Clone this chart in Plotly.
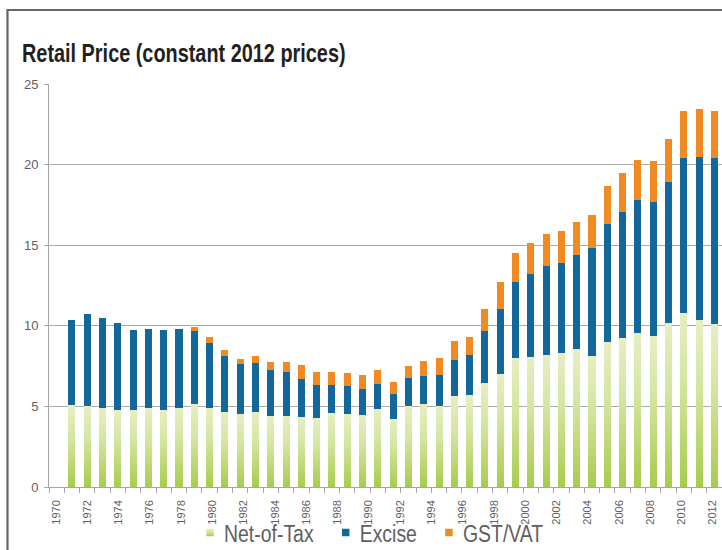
import plotly.graph_objects as go

# ---------------- data ----------------
years = list(range(1970, 2013))

net_of_tax = [5.07, 5.00, 4.90, 4.76, 4.76, 4.90, 4.76, 4.90, 5.13, 4.90,
              4.65, 4.51, 4.65, 4.39, 4.39, 4.32, 4.26, 4.57, 4.51, 4.45,
              4.82, 4.20, 5.00, 5.13, 5.00, 5.63, 5.69, 6.43, 6.99, 7.98,
              8.05, 8.17, 8.30, 8.54, 8.10, 8.97, 9.22, 9.53, 9.35, 10.15,
              10.77, 10.34, 10.09]

excise = [5.27, 5.71, 5.58, 5.41, 4.96, 4.88, 4.96, 4.88, 4.53, 4.03,
          3.46, 3.10, 3.02, 2.85, 2.73, 2.36, 2.05, 1.74, 1.73, 1.61,
          1.55, 1.55, 1.74, 1.74, 1.93, 2.23, 2.48, 3.23, 4.08, 4.72,
          5.15, 5.51, 5.60, 5.88, 6.70, 7.37, 7.87, 8.27, 8.30, 8.75,
          9.63, 10.16, 10.31]

gst_vat = [0, 0, 0, 0, 0, 0, 0, 0, 0.27, 0.37,
           0.37, 0.33, 0.46, 0.50, 0.62, 0.87, 0.81, 0.81, 0.81, 0.87,
           0.87, 0.75, 0.75, 0.93, 1.05, 1.18, 1.16, 1.41, 1.63, 1.80,
           1.92, 2.00, 2.00, 2.05, 2.10, 2.36, 2.41, 2.50, 2.55, 2.66,
           2.90, 2.92, 2.90]

tick_years = list(range(1970, 2013, 2))
tick_labels = [str(y) for y in tick_years]
y_ticks = [0, 5, 10, 15, 20, 25]

series_names = ["Net-of-Tax", "Excise", "GST/VAT"]
colors = {"Net-of-Tax": "#c3dc80", "Excise": "#13679b", "GST/VAT": "#f08a22"}

FONT = "Liberation Sans, Arial, sans-serif"
GREY_TXT = "#5f5f5f"

fig = go.Figure()

for name, vals in zip(series_names, [net_of_tax, excise, gst_vat]):
    fig.add_trace(go.Bar(
        x=years, y=vals, name=name, width=0.46,
        marker=dict(color=colors[name], line=dict(width=0)),
        showlegend=False,
    ))

# legend entries with small square swatches
for name in series_names:
    fig.add_trace(go.Scatter(
        x=[None], y=[None], mode="markers", name=name,
        marker=dict(symbol="square", size=7.5, color=colors[name]),
        showlegend=True,
    ))

# invisible trace on the label axis
fig.add_trace(go.Scatter(x=[tick_years[0]], y=[0], xaxis="x2", mode="markers",
                         marker=dict(opacity=0), showlegend=False, hoverinfo="skip"))

fig.update_layout(
    width=722, height=550,
    margin=dict(l=49, r=0, t=84, b=63, autoexpand=False),
    paper_bgcolor="white", plot_bgcolor="white",
    barmode="stack", bargap=0,
    font=dict(family=FONT, color=GREY_TXT),
    title=dict(text="<b>Retail Price (constant 2012 prices)</b>",
               font=dict(family=FONT, size=25, color="#231f20"),
               xref="container", x=22 / 722, xanchor="left",
               yref="container", y=1 - 53 / 550, yanchor="middle"),
    xaxis=dict(range=[1968.5, 2012.5], tick0=1968.5, dtick=1,
               showticklabels=False, ticks="outside", ticklen=5,
               tickcolor="#a6a6a6", showline=True, linecolor="#a6a6a6",
               linewidth=1, showgrid=False, zeroline=False, fixedrange=True),
    xaxis2=dict(overlaying="x", anchor="y", side="bottom",
                range=[1969.55, 2012.58], tickmode="array",
                tickvals=tick_years, ticktext=tick_labels, tickangle=-90,
                ticks="", ticklabelstandoff=10,
                tickfont=dict(family=FONT, size=11, color=GREY_TXT),
                showline=False, showgrid=False, zeroline=False),
    yaxis=dict(range=[0, 25], tickmode="array", tickvals=y_ticks,
               showgrid=True, gridcolor="#ababab", gridwidth=1.3,
               showline=True, linecolor="#a6a6a6", linewidth=1,
               ticks="outside", ticklen=4, tickcolor="#a6a6a6",
               ticklabelstandoff=3,
               tickfont=dict(family=FONT, size=13, color=GREY_TXT),
               zeroline=False),
    legend=dict(orientation="h", x=0.476, xanchor="center",
                y=-0.114, yanchor="middle", traceorder="normal",
                font=dict(family=FONT, size=24, color=GREY_TXT),
                bgcolor="rgba(0,0,0,0)", itemclick=False),
    shapes=[
        dict(type="path", xref="paper", yref="paper",
             path="M -0.0617,-0.2 L -0.0617,1.1836 L 1.05,1.1836",
             line=dict(color="#666666", width=2.2), layer="above"),
    ],
)

post = """
document.documentElement.style.margin='0';
document.documentElement.style.overflow='hidden';
document.body.style.margin='0';
document.body.style.padding='0';
document.body.style.overflow='hidden';
var gd = document.getElementById('{plot_id}');
function parseTr(g){
  var m=/translate\\(\\s*([-\\d.e]+)[ ,]+([-\\d.e]+)\\s*\\)/.exec(g.getAttribute('transform')||'');
  return m?[parseFloat(m[1]),parseFloat(m[2])]:[0,0];
}
function applyStyle(){
  var ns='http://www.w3.org/2000/svg';
  var svg = gd.querySelector('svg.main-svg');
  if(!document.getElementById('netgrad')){
    var defs = svg.querySelector('defs');
    if(!defs){defs=document.createElementNS(ns,'defs');svg.insertBefore(defs, svg.firstChild);}
    var lg = document.createElementNS(ns,'linearGradient');
    lg.setAttribute('id','netgrad');
    lg.setAttribute('x1','0');lg.setAttribute('y1','0');lg.setAttribute('x2','0');lg.setAttribute('y2','1');
    [['0','#e6eec4'],['0.4','#d5e5a0'],['1','#a6cc4f']].forEach(function(s){
      var st=document.createElementNS(ns,'stop');
      st.setAttribute('offset',s[0]);st.setAttribute('stop-color',s[1]);lg.appendChild(st);});
    defs.appendChild(lg);
  }
  var tr = gd.querySelectorAll('.barlayer .trace.bars')[0];
  if(tr){tr.querySelectorAll('path').forEach(function(p){p.style.fill='url(#netgrad)';});}
  var lt = gd.querySelectorAll('.legend .traces')[0];
  if(lt){lt.querySelectorAll('.legendpoints path').forEach(function(p){p.style.fill='url(#netgrad)';});}
  var t = gd.querySelector('text.gtitle');
  if(t){
    var x = parseFloat(t.getAttribute('x')) || 0;
    t.setAttribute('transform','translate('+x+',0) scale(0.795,1) translate('+(-x)+',0)');
  }
  // condensed legend text, packed like the reference
  var items = Array.prototype.slice.call(gd.querySelectorAll('.legend .traces'));
  if(items.length && !items[0].dataset.packed){
    var S=0.81, GAP_TXT=14, GAP_NEXT=32, MK=20;
    var pos=items.map(parseTr);
    var texts=items.map(function(g){return g.querySelector('text.legendtext');});
    var w0=texts.map(function(t){return t.getBBox().width;});
    var tx0=parseFloat(texts[0].getAttribute('x'))||40;
    var oldLeft=pos[0][0], oldRight=pos[pos.length-1][0]+tx0+w0[w0.length-1];
    var newX=[0];
    for(var i=1;i<items.length;i++){ newX.push(newX[i-1] + GAP_TXT + w0[i-1]*S + GAP_NEXT); }
    var newRight=newX[newX.length-1] + MK + GAP_TXT + w0[w0.length-1]*S;
    var shift=(oldLeft+oldRight)/2 - newRight/2;
    items.forEach(function(g,i){
      g.setAttribute('transform','translate('+(newX[i]+shift)+','+pos[i][1]+')');
      texts[i].setAttribute('transform','translate('+(MK+GAP_TXT)+',0) scale('+S+',1) translate('+(-tx0)+',0)');
      g.dataset.packed='1';
    });
  }
}
applyStyle();
gd.on('plotly_afterplot', applyStyle);
"""

fig.write_html("out.html", post_script=post, config={"displayModeBar": False, "staticPlot": True})
